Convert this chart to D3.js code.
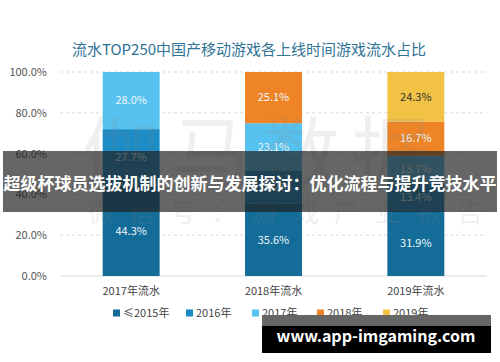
<!DOCTYPE html>
<html>
<head>
<meta charset="utf-8">
<script src="https://cdn.jsdelivr.net/npm/d3@7"></script>
<style>
  body { margin: 0; background: #fff; }
  text { font-family: "Noto Sans CJK SC", "Noto Sans", sans-serif; }
</style>
</head>
<body>
<div id="chart-container"></div>
<script>
var width = 500;
var height = 362;

// data
var years = ["2017年流水", "2018年流水", "2019年流水"];
var series = ["≤2015年", "2016年", "2017年", "2018年", "2019年"];
var colors = ["#146c98", "#1b8cc6", "#57c2ef", "#ee8425", "#f1c243"];
var v2015 = [44.3, 35.6, 31.9];
var v2016 = [27.7, 16.2, 13.4];
var v2017 = [28.0, 23.1, 13.7];
var v2018 = [0, 25.1, 16.7];
var v2019 = [0, 0, 24.3];
var yTicks = [0, 20, 40, 60, 80, 100];

var svg = d3
  .select("#chart-container")
  .append("svg")
  .attr("width", width)
  .attr("height", height);

svg.append("rect").attr("width", width).attr("height", height).attr("fill", "#fff");

// title
svg.append("text")
  .attr("x", 249)
  .attr("y", 55)
  .attr("text-anchor", "middle")
  .attr("font-size", 15)
  .attr("fill", "#2f7396")
  .text("流水TOP250中国产移动游戏各上线时间游戏流水占比");

var x = d3.scaleBand()
  .domain(years)
  .range([60, 487])
  .paddingInner(0.6)
  .paddingOuter(0.3);

var y = d3.scaleLinear()
  .domain([0, 100])
  .range([276, 72]);

// gridlines
svg.append("g")
  .selectAll("line")
  .data(yTicks)
  .enter().append("line")
  .attr("x1", 60)
  .attr("x2", 487)
  .attr("y1", function(d) { return y(d); })
  .attr("y2", function(d) { return y(d); })
  .attr("stroke", "#d9d9d9")
  .attr("stroke-dasharray", function(d) { return d == 0 ? null : "3,3"; });

// y axis
var yAxis = svg.append("g")
  .attr("transform", "translate(50,0)")
  .call(d3.axisLeft(y).tickValues(yTicks).tickSize(0).tickFormat(function(d) { return d.toFixed(1) + "%"; }));
yAxis.select(".domain").remove();
yAxis.selectAll("text").attr("font-size", 11).attr("fill", "#555").attr("font-family", "\"Noto Sans CJK SC\", sans-serif");

// x axis
var xAxis = svg.append("g")
  .attr("transform", "translate(0,280)")
  .call(d3.axisBottom(x).tickSize(0));
xAxis.select(".domain").remove();
xAxis.selectAll("text").attr("font-size", 11).attr("fill", "#444").attr("dy", "1.05em").attr("font-family", "\"Noto Sans CJK SC\", sans-serif");

// stacked rows
var table = years.map(function(yr, i) {
  return { year: yr, s0: v2015[i], s1: v2016[i], s2: v2017[i], s3: v2018[i], s4: v2019[i] };
});
var stack = d3.stack().keys(["s0", "s1", "s2", "s3", "s4"]);
var layers = stack(table);

var groups = svg.append("g")
  .selectAll("g")
  .data(layers)
  .enter().append("g")
  .attr("fill", function(d, i) { return colors[i]; });

groups.selectAll("rect")
  .data(function(d) { return d.filter(function(p) { return p[1] - p[0] > 0; }); })
  .enter().append("rect")
  .attr("x", function(d) { return x(d.data.year); })
  .attr("width", x.bandwidth())
  .attr("y", function(d) { return y(d[1]); })
  .attr("height", function(d) { return y(d[0]) - y(d[1]); });

// value labels
groups.selectAll("text")
  .data(function(d) { return d.filter(function(p) { return p[1] - p[0] > 0; }).map(function(p) { p.key = d.key; return p; }); })
  .enter().append("text")
  .attr("x", function(d) { return x(d.data.year) + x.bandwidth() / 2; })
  .attr("y", function(d) { return (y(d[0]) + y(d[1])) / 2; })
  .attr("dy", "0.35em")
  .attr("text-anchor", "middle")
  .attr("font-size", 11)
  .attr("fill", function(d) { return d.key == "s4" ? "#333" : "#eef6fb"; })
  .text(function(d) { return (d[1] - d[0]).toFixed(1) + "%"; });

// faint watermark
var wm = svg.append("g").attr("fill", "#888").attr("opacity", 0.13);
wm.append("text")
  .attr("x", 82)
  .attr("y", 182)
  .attr("font-size", 78)
  .attr("letter-spacing", 12)
  .text("伽马数据");
wm.append("text")
  .attr("x", 88)
  .attr("y", 222)
  .attr("font-size", 26)
  .attr("letter-spacing", 15)
  .text("微信号：游戏产业报告");

// legend
var legendX = [113, 186, 252, 317, 383];
var legend = svg.append("g")
  .selectAll("g")
  .data(series)
  .enter().append("g")
  .attr("transform", function(d, i) { return "translate(" + legendX[i] + ",313)"; });
legend.append("rect")
  .attr("x", 0)
  .attr("y", -3.5)
  .attr("width", 7)
  .attr("height", 7)
  .attr("fill", function(d, i) { return colors[i]; });
legend.append("text")
  .attr("x", 10)
  .attr("dy", "0.35em")
  .attr("font-size", 11)
  .attr("fill", "#444")
  .text(function(d) { return d; });

// overlay banner
svg.append("rect")
  .attr("x", 3)
  .attr("y", 151)
  .attr("width", 494)
  .attr("height", 61)
  .attr("fill", "#1e1e1e")
  .attr("opacity", 0.68);
svg.append("text")
  .attr("x", 250)
  .attr("y", 190)
  .attr("text-anchor", "middle")
  .attr("font-size", 17)
  .attr("font-weight", "bold")
  .attr("fill", "#fff")
  .text("超级杯球员选拔机制的创新与发展探讨：优化流程与提升竞技水平");

// site badge
svg.append("rect")
  .attr("x", 262)
  .attr("y", 315)
  .attr("width", 229)
  .attr("height", 11)
  .attr("fill", "#666");
svg.append("rect")
  .attr("x", 262)
  .attr("y", 326)
  .attr("width", 229)
  .attr("height", 27)
  .attr("fill", "#000");
svg.append("text")
  .attr("x", 376)
  .attr("y", 342)
  .attr("text-anchor", "middle")
  .attr("font-size", 16)
  .attr("font-weight", "bold")
  .attr("font-family", "\"DejaVu Sans\", sans-serif")
  .attr("fill", "#fff")
  .text("www.app-imgaming.com");
</script>
</body>
</html>
